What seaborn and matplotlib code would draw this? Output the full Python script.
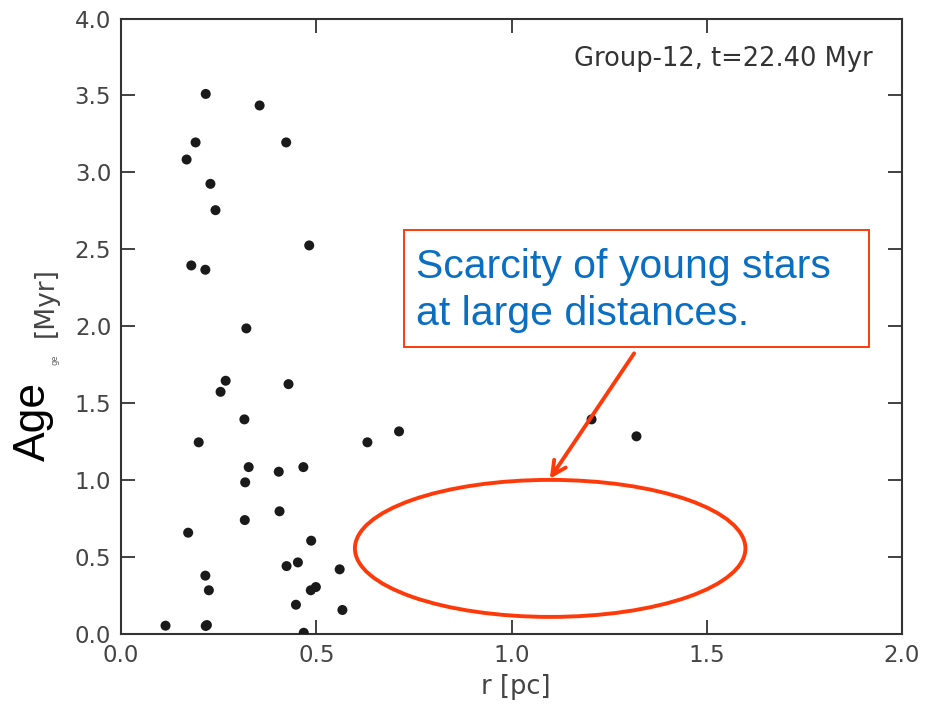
import matplotlib
matplotlib.use("Agg")
import matplotlib.pyplot as plt
import seaborn as sns
import pandas as pd
from matplotlib.patches import Ellipse, Rectangle

# ---- data ----
r_pc = [0.217, 0.355, 0.191, 0.423, 0.168, 0.229, 0.242, 0.482, 0.180, 0.216,
        0.321, 0.268, 0.255, 0.429, 0.316, 0.199, 0.631, 0.712, 0.327, 0.404,
        0.467, 0.318, 0.406, 0.317, 0.172, 0.487, 0.453, 0.424, 0.560, 0.216,
        0.225, 0.499, 0.486, 0.448, 0.567, 0.114, 0.217, 0.220, 0.468, 1.205,
        1.320]
age_myr = [3.51, 3.435, 3.195, 3.195, 3.084, 2.926, 2.755, 2.526, 2.396, 2.368,
           1.987, 1.647, 1.575, 1.625, 1.396, 1.247, 1.247, 1.318, 1.086, 1.056,
           1.086, 0.987, 0.799, 0.742, 0.660, 0.608, 0.467, 0.443, 0.422, 0.381,
           0.286, 0.307, 0.286, 0.192, 0.158, 0.056, 0.054, 0.060, 0.010, 1.396,
           1.286]
x_ticks = [0.0, 0.5, 1.0, 1.5, 2.0]
y_ticks = [0.0, 0.5, 1.0, 1.5, 2.0, 2.5, 3.0, 3.5, 4.0]
title_text = "Group-12, t=22.40 Myr"
note_lines = ["Scarcity of young stars", "at large distances."]

df = pd.DataFrame({"r": r_pc, "age": age_myr})

sns.set_style("ticks")
plt.rcParams["font.family"] = ["DejaVu Sans"]

W, H = 940, 706
fig = plt.figure(figsize=(W / 100, H / 100), dpi=100)
ax = fig.add_axes([121 / W, 1 - 634.3 / H, (902 - 121) / W, (634.3 - 18.5) / H])

sns.scatterplot(data=df, x="r", y="age", ax=ax, color="#1a1a1a", s=52,
                edgecolor="none", linewidth=0, zorder=3)

ax.set_xlim(0, 2.0)
ax.set_ylim(0, 4.0)
ax.set_xticks(x_ticks)
ax.set_yticks(y_ticks)
ax.set_xticklabels([f"{v:.1f}" for v in x_ticks])
ax.set_yticklabels([f"{v:.1f}" for v in y_ticks])
ax.tick_params(direction="in", length=10, width=1.3, color="#333333",
               labelsize=16.5, labelcolor="#444444", pad=7,
               top=True, right=True)
for s in ax.spines.values():
    s.set_color("#333333")
    s.set_linewidth(1.5)

ax.set_xlabel("r [pc]", fontsize=18.5, color="#444444")
ax.xaxis.set_label_coords((516 - 121) / (902 - 121), -(687 - 634.3) / (634.3 - 18.5))
ax.xaxis.label.set_va("center")
ax.set_ylabel("")

def fx(px):
    return px / W

def fy(py):
    return 1 - py / H

# y-axis label pieces
fig.text(fx(46), fy(302), "[Myr]", rotation=90, ha="center", va="center",
         fontsize=19, color="#444444")
fig.text(fx(55), fy(360), "ge", rotation=90, ha="center", va="center",
         fontsize=6, color="#666666")
fig.text(fx(33), fy(421), "Age", rotation=90, ha="center", va="center",
         fontsize=32, color="black", family=["Liberation Sans", "DejaVu Sans"])

# title inside axes
fig.text(fx(873), fy(65.7), title_text, ha="right", va="baseline",
         fontsize=18.5, color="#333333")

# annotation box
red = "#ff3a0a"
fig.patches.append(Rectangle((fx(404), fy(346.7)), fx(869) - fx(404), fy(230) - fy(346.7),
                             transform=fig.transFigure, fill=True, facecolor="white",
                             edgecolor=red, linewidth=1.4, zorder=5))
fig.text(fx(416), fy(278), note_lines[0], ha="left", va="baseline", fontsize=29.5,
         color="#0a6fc2", family=["Liberation Sans", "DejaVu Sans"], zorder=6)
fig.text(fx(416), fy(325), note_lines[1], ha="left", va="baseline", fontsize=29.5,
         color="#0a6fc2", family=["Liberation Sans", "DejaVu Sans"], zorder=6)

# ellipse and arrow
ell = Ellipse((1.099, 0.558), 1.0, 0.89, fill=False, edgecolor=red,
              linewidth=2.8, zorder=4, clip_on=False)
ax.add_patch(ell)
ax.annotate("", xy=(1.098, 1.01), xytext=(1.314, 1.825),
            arrowprops=dict(arrowstyle="->,head_length=1.0,head_width=0.5",
                            color=red, lw=2.8, shrinkA=0, shrinkB=0),
            zorder=4)

fig.savefig("out.png", dpi=100)
